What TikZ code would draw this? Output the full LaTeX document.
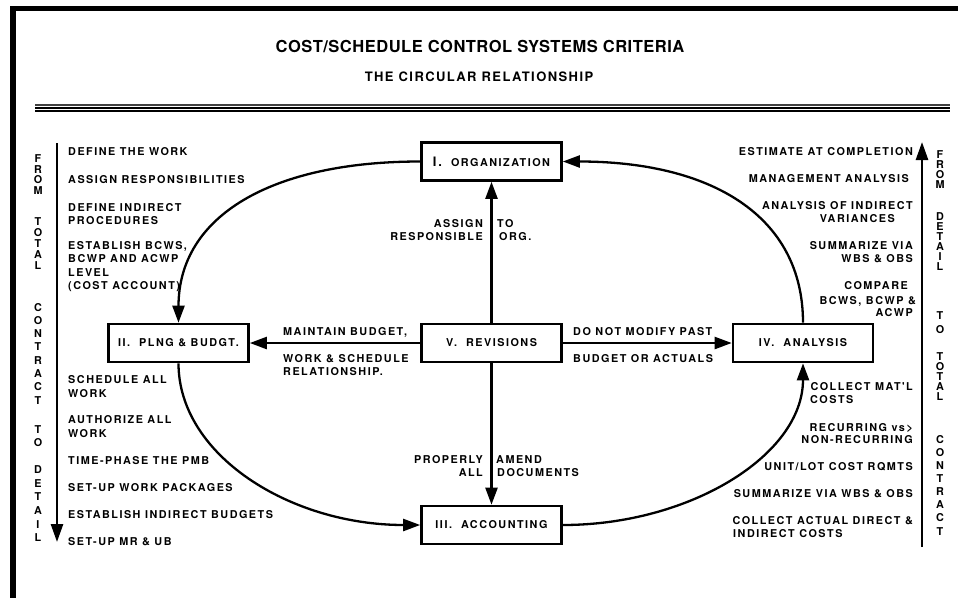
\documentclass[tikz,border=0pt]{standalone}
\usepackage{fontspec}
\setmainfont{TeX Gyre Heros}
\newfontfamily\labfont[LetterSpace=14]{TeX Gyre Heros}
\newfontfamily\titlefont[LetterSpace=3]{TeX Gyre Heros}
\newfontfamily\subfont[LetterSpace=11]{TeX Gyre Heros}
\usetikzlibrary{arrows.meta}

\begin{document}
\begin{tikzpicture}[x=1pt,y=-1pt,
  lab/.style={font=\labfont\bfseries\fontsize{10.8}{13.3}\selectfont, inner sep=0pt},
  lw/.style={lab, anchor=base west},
  le/.style={lab, anchor=base east},
  vl/.style={font=\bfseries\fontsize{10.8}{11}\selectfont, inner sep=0pt, anchor=center},
  box/.style={draw, line width=2.6pt, minimum width=140pt, minimum height=38pt,
    inner sep=0pt, font=\labfont\bfseries\fontsize{10.8}{13.3}\selectfont},
  conn/.style={line width=2.3pt, -{Triangle[length=17pt,width=12pt]}},
  side/.style={line width=2.6pt, -{Triangle[length=18pt,width=12pt]}},
]
\useasboundingbox (0,0) rectangle (958,598);

% page frame: heavy rules along the left and top edges
\fill (10,6) rectangle (16,598);
\fill (10,6) rectangle (958,11);

% titles
\node[font=\titlefont\bfseries\fontsize{16.5}{18}\selectfont, inner sep=0pt] (title) at (480,46.5)
  {COST/SCHEDULE CONTROL SYSTEMS CRITERIA};
\node[font=\subfont\bfseries\fontsize{13}{14}\selectfont, inner sep=0pt] (subtitle) at (479,76.5)
  {THE CIRCULAR RELATIONSHIP};

% triple rule under the heading
\draw[line width=1.5pt, black!75] (35,105) -- (950,105);
\draw[line width=2pt] (35,108) -- (950,108);
\draw[line width=1.5pt] (35,111) -- (950,111);

% the five elements
\node[box] (I)   at (491.5,161.5) {{\fontsize{13}{13}\selectfont I.}\ \ ORGANIZATION};
\node[box] (V)   at (491.5,343)   {V.\ \ REVISIONS};
\node[box] (II)  at (178.5,343)   {II.\ \ PLNG \& BUDGT.};
\node[box] (IV)  at (803,343)     {IV.\ \ ANALYSIS};
\node[box] (III) at (491.5,525)   {III.\ \ ACCOUNTING};

% revisions feed every other element
\draw[conn] (V.north) -- (I.south);
\draw[conn] (V.south) -- (III.north);
\draw[conn] (V.west) -- (II.east);
\draw[conn] (V.east) -- (IV.west);

% the circular flow
\draw[conn] (I.west) .. controls (273,161.5) and (178.5,215) .. (II.north);
\draw[conn] (II.south) .. controls (178.5,455) and (290,525) .. (III.west);
\draw[conn] (III.east) .. controls (690,525) and (803,455) .. (IV.south);
\draw[conn] (IV.north) .. controls (803,215) and (710,161.5) .. (I.east);

% labels on the revision arrows
\node[le] (as1) at (483,227) {ASSIGN};
\node[lw] (as2) at (497,227) {TO};
\node[le] (as3) at (483,240) {RESPONSIBLE};
\node[lw] (as4) at (499,240) {ORG.};
\node[lw] (mb1) at (283,335) {MAINTAIN BUDGET,};
\node[lw] (mb2) at (283,362) {WORK \& SCHEDULE};
\node[lw] (mb3) at (283,375) {RELATIONSHIP.};
\node[lw] (dn1) at (573,335) {DO NOT MODIFY PAST};
\node[lw] (dn2) at (573,362) {BUDGET OR ACTUALS};
\node[le] (pa1) at (483,463) {PROPERLY};
\node[lw] (pa2) at (496,463) {AMEND};
\node[le] (pa3) at (483,476) {ALL};
\node[lw] (pa4) at (497,476) {DOCUMENTS};

% left column: from total contract to detail
\coordinate (ltop) at (57,143);
\coordinate (lbot) at (57,542);
\draw[side] (ltop) -- (lbot);
\node[lw] (l1)  at (68,155) {DEFINE THE WORK};
\node[lw] (l2)  at (68,183) {ASSIGN RESPONSIBILITIES};
\node[lw] (l3)  at (68,211) {DEFINE INDIRECT};
\node[lw] (l4)  at (68,224) {PROCEDURES};
\node[lw] (l5)  at (68,249) {ESTABLISH BCWS,};
\node[lw] (l6)  at (68,262) {BCWP AND ACWP};
\node[lw] (l7)  at (68,276) {LEVEL};
\node[lw] (l8)  at (68,289) {(COST ACCOUNT)};
\node[lw] (l9)  at (68,383) {SCHEDULE ALL};
\node[lw] (l10) at (68,397) {WORK};
\node[lw] (l11) at (68,423) {AUTHORIZE ALL};
\node[lw] (l12) at (68,437) {WORK};
\node[lw] (l13) at (68,464) {TIME-PHASE THE PMB};
\node[lw] (l14) at (68,491) {SET-UP WORK PACKAGES};
\node[lw] (l15) at (68,518) {ESTABLISH INDIRECT BUDGETS};
\node[lw] (l16) at (68,545) {SET-UP MR \& UB};

\foreach \y/\c [count=\i] in {159/F,169.5/R,180/O,190.5/M,
    222/T,233/O,244/T,255/A,266/L,
    308/C,321/O,334/N,347/T,361/R,374/A,387/C,401/T,
    430/T,443/O,
    470/D,483.6/E,497/T,511/A,524.5/I,538/L}
  \node[vl] (lv\i) at (38,\y) {\c};

% right column: from detail to total contract
\coordinate (rbot) at (922,547);
\coordinate (rtop) at (922,142);
\draw[side] (rbot) -- (rtop);
\node[le] (r1)  at (913,155) {ESTIMATE AT COMPLETION};
\node[le] (r2)  at (909,182) {MANAGEMENT ANALYSIS};
\node[le] (r3)  at (913,209) {ANALYSIS OF INDIRECT};
\node[le] (r4)  at (895,222) {VARIANCES};
\node[le] (r5)  at (913,249) {SUMMARIZE VIA};
\node[le] (r6)  at (913,262) {WBS \& OBS};
\node[le] (r7)  at (908,289) {COMPARE};
\node[le] (r8)  at (916,304) {BCWS, BCWP \&};
\node[le] (r9)  at (913,316) {ACWP};
\node[le] (r10) at (913,390) {COLLECT MAT'L};
\node[lw] (r11) at (810,403) {COSTS};
\node[le] (r12) at (913,431) {RECURRING vs>};
\node[le] (r13) at (913,443) {NON-RECURRING};
\node[le] (r14) at (913,470) {UNIT/LOT COST RQMTS};
\node[le] (r15) at (913,497) {SUMMARIZE VIA WBS \& OBS};
\node[le] (r16) at (913,524) {COLLECT ACTUAL DIRECT \&};
\node[lw] (r17) at (733,537) {INDIRECT COSTS};

\foreach \y/\c [count=\i] in {155/F,165/R,175/O,185/M,
    217/D,227/E,237/T,247/A,257/I,267/L,
    316/T,330/O,
    357/T,367/O,377/T,387/A,397/L,
    440/C,453/O,466/N,479/T,492/R,505/A,518/C,532/T}
  \node[vl] (rv\i) at (940,\y) {\c};
\end{tikzpicture}
\end{document}
